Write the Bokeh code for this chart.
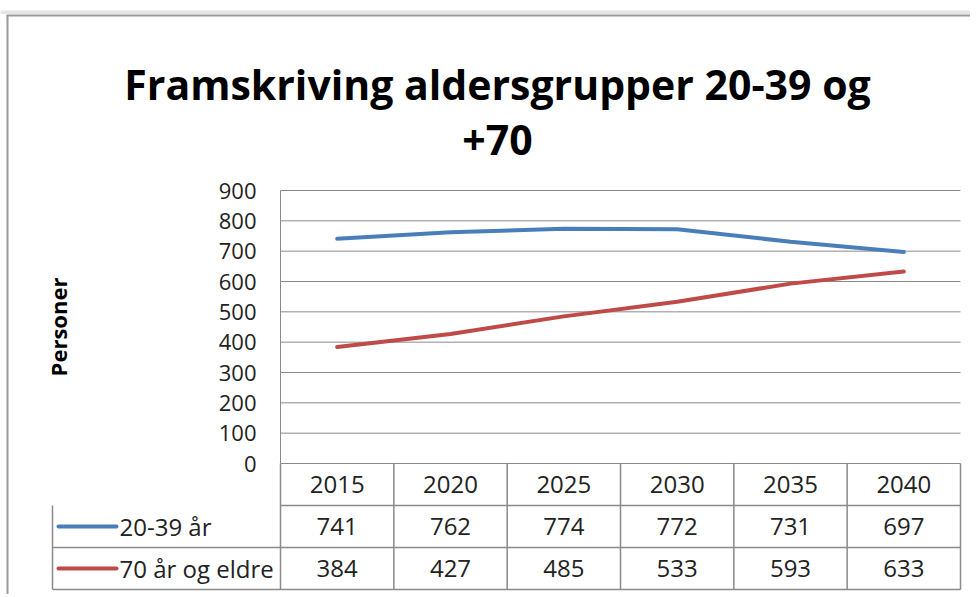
import numpy as np
from bokeh.plotting import figure
from bokeh.models import Range1d, LinearAxis, FixedTicker
from bokeh.core.properties import value
from bokeh.embed import file_html
from bokeh.resources import INLINE

# ---------------- data ----------------
title_lines = ["Framskriving aldersgrupper 20-39 og", "+70"]
years = ["2015", "2020", "2025", "2030", "2035", "2040"]
series_names = ["20-39 år", "70 år og eldre"]
young = [741, 762, 774, 772, 731, 697]
old = [384, 427, 485, 533, 593, 633]
y_ticks = [0, 100, 200, 300, 400, 500, 600, 700, 800, 900]
y_label = "Personer"

# ---------------- layout (figure pixels) ----------------
W, H = 970, 594
PLOT_L, PLOT_R = 280, 960       # chart area left/right
PLOT_T, ZERO = 190, 463         # y of top tick and of zero line
TABLE_L = 52                    # left edge of data table
ROW_H = 42.0
TITLE_CX = 497
TITLE_BASE = [83, 139]

FONT = value("Open Sans")
GRID = "#8a8a8a"
FRAME = "#9a9a9a"
COLORS = ["#4A7EBB", "#BE4B48"]

n = len(years)
cw = (PLOT_R - PLOT_L) / n
ymax = y_ticks[-1]
ppu = (ZERO - PLOT_T) / ymax

x_range = Range1d(-0.5 - PLOT_L / cw, n - 0.5 + (W - PLOT_R) / cw)
y_range = Range1d(-(H - ZERO) / ppu, ymax + PLOT_T / ppu)

p = figure(width=W, height=H, x_range=x_range, y_range=y_range,
           x_axis_location=None, y_axis_location=None,
           output_backend="svg", toolbar_location=None,
           min_border=0, outline_line_color=None)
p.grid.visible = False
p.extra_y_ranges = {"table": Range1d(-(H - ZERO) / ROW_H, ZERO / ROW_H)}

def px_to_x(px):
    return -0.5 + (px - PLOT_L) / cw

def py_to_y(py):
    return ymax + (PLOT_T - py) / ppu

xs = list(range(n))

# sheet / chart-object frame decoration
p.quad(left=[x_range.start], right=[x_range.end], top=[py_to_y(10)], bottom=[py_to_y(13.5)],
       fill_color="#e6e6e6", line_color=None)
p.segment(x0=[px_to_x(6)], x1=[x_range.end], y0=[py_to_y(15)], y1=[py_to_y(15)],
          line_color=FRAME, line_width=2)
p.segment(x0=[px_to_x(7)], x1=[px_to_x(7)], y0=[py_to_y(15)], y1=[y_range.start],
          line_color=FRAME, line_width=2)

# gridlines from tick values
p.segment(x0=-0.5, x1=n - 0.5, y0=y_ticks, y1=y_ticks, line_color=GRID, line_width=1)

# y axis
ax = LinearAxis(fixed_location=-0.5, ticker=FixedTicker(ticks=y_ticks), bounds=(0, ymax),
                axis_label=y_label)
ax.axis_line_color = GRID
ax.major_tick_line_color = None
ax.minor_tick_line_color = None
ax.major_tick_out = 0
ax.major_label_standoff = 24
ax.major_label_text_font = "Open Sans"
ax.major_label_text_font_size = "22px"
ax.major_label_text_color = "#222222"
ax.axis_label_text_font = "Open Sans"
ax.axis_label_text_font_style = "bold"
ax.axis_label_text_font_size = "22px"
ax.axis_label_text_color = "#000000"
ax.axis_label_standoff = 143
p.add_layout(ax, "left")

# lines
for vals, col in zip([young, old], COLORS):
    p.line(x=xs, y=vals, line_color=col, line_width=4, line_cap="round")

# ---------------- data table ----------------
lab_l = px_to_x(TABLE_L)
rows = len(series_names)
# horizontal borders
p.segment(x0=[-0.5] + [lab_l] * rows, x1=[n - 0.5] * (rows + 1),
          y0=[-k for k in range(1, rows + 2)], y1=[-k for k in range(1, rows + 2)],
          line_color=GRID, line_width=1.5, y_range_name="table")
# vertical borders
vx = [i - 0.5 for i in range(n + 1)]
p.segment(x0=vx, x1=vx, y0=[0] * len(vx), y1=[-(rows + 1)] * len(vx),
          line_color=GRID, line_width=1.5, y_range_name="table")
p.segment(x0=[lab_l], x1=[lab_l], y0=[-1], y1=[-(rows + 1)],
          line_color=GRID, line_width=1.5, y_range_name="table")

# header
p.text(x=xs, y=[-0.5] * n, text=years, text_font=FONT, text_font_size="24px",
       text_align="center", text_baseline="middle", text_color="#222222",
       y_range_name="table")
# values + legend keys
for r, (vals, col, name) in enumerate(zip([young, old], COLORS, series_names)):
    yy = -(r + 1.5)
    p.text(x=xs, y=[yy] * n, text=[str(v) for v in vals], text_font=FONT,
           text_font_size="24px", text_align="center", text_baseline="middle",
           text_color="#222222", y_range_name="table")
    p.segment(x0=[lab_l + 6 / cw], x1=[lab_l + 64 / cw], y0=[yy], y1=[yy],
              line_color=col, line_width=4, line_cap="round", y_range_name="table")
    p.text(x=[lab_l + 67 / cw], y=[yy], text=[name], text_font=FONT,
           text_font_size="24px", text_align="left", text_baseline="middle",
           text_color="#222222", y_range_name="table")

# title
p.text(x=[px_to_x(TITLE_CX)] * 2, y=[py_to_y(b) for b in TITLE_BASE], text=title_lines,
       text_font=FONT, text_font_style="bold", text_font_size="41px",
       text_align="center", text_baseline="alphabetic", text_color="#000000")

open("out.html", "w").write(file_html(p, INLINE))
